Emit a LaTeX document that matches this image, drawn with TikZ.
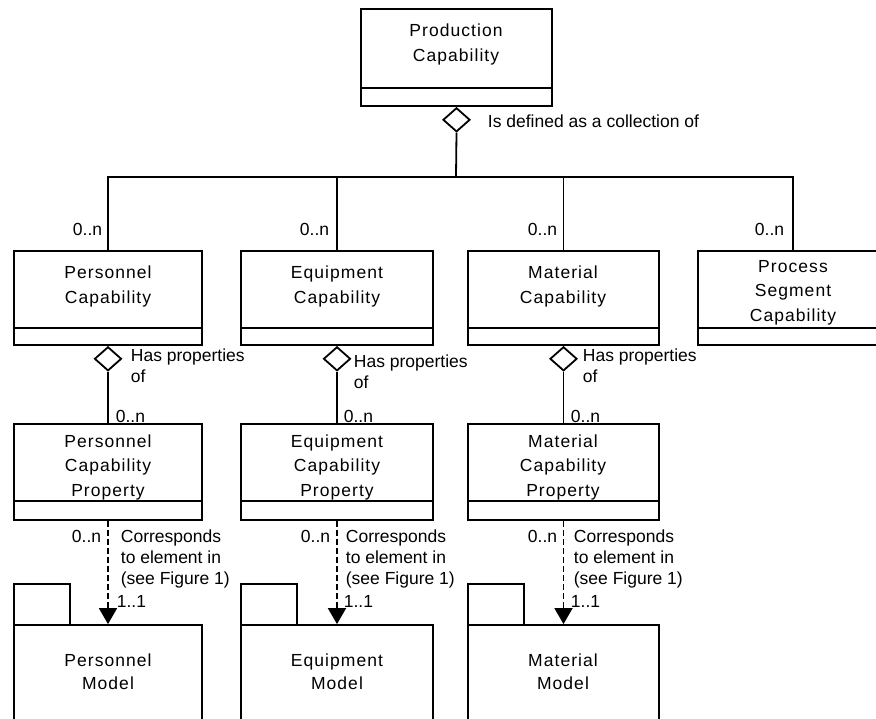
\documentclass[tikz,border=0pt]{standalone}
\usepackage{fontspec}
\setmainfont{Liberation Sans}
\newfontfamily\classfont[LetterSpace=6]{Liberation Sans}
\usetikzlibrary{shapes.geometric,arrows.meta}

% class box: name, left, top, right, bottom, divider
\newcommand\umlclass[6]{%
  \node[umlbox, minimum width={#4pt-#2pt}, minimum height={#5pt-#3pt}]
    (#1) at ({(#2+#4)/2},{(#3+#5)/2}) {};
  \draw (#1.west |- 0,#6) -- (#1.east |- 0,#6);
}
% package: name, left, right
\newcommand\umlpackage[3]{%
  \node[umlbox, minimum width=56pt, minimum height=41pt]
    (#1tab) at ({#2+28},604.5) {};
  \node[umlbox, minimum width={#3pt-#2pt}, minimum height=120pt]
    (#1) at ({(#2+#3)/2},685) {};
}

\begin{document}
\begin{tikzpicture}[x=1pt,y=-1pt,
  line width=1.8pt,
  umlbox/.style={draw, rectangle, inner sep=0pt, line width=1.8pt},
  % multi-line texts are anchored at the baseline of their last line
  ctext/.style={align=center, anchor=base, inner sep=0pt,
    font=\classfont\fontsize{17.5}{24.5}\selectfont},
  lbl/.style={align=left, anchor=base west, inner sep=0pt,
    font=\fontsize{17.5}{21}\selectfont},
  mult/.style={inner sep=0pt, font=\fontsize{17.5}{20}\selectfont},
  agg/.style={draw, diamond, fill=white, inner sep=0pt,
    minimum width=27pt, minimum height=24pt, line width=1.8pt},
  dep/.style={dash pattern=on 6pt off 3pt, -{Triangle[length=16pt,width=18pt]}}
]
\useasboundingbox (0,0) rectangle (876,718);
\clip (0,0) rectangle (876,718);

% classes
\umlclass{pc}{361}{9}{552}{106}{88}
\umlclass{perc}{14}{251}{202}{345}{328}
\umlclass{eqc}{241}{251}{433}{345}{328}
\umlclass{matc}{468}{251}{659}{345}{328}
\umlclass{proc}{698}{251}{888}{345}{328}
\umlclass{perprop}{14}{424}{202}{520}{501}
\umlclass{eqprop}{241}{424}{433}{520}{501}
\umlclass{matprop}{468}{424}{659}{520}{501}

% packages
\umlpackage{permod}{14}{202}
\umlpackage{eqmod}{241}{433}
\umlpackage{matmod}{468}{659}

% class names
\node[ctext] (pc-t) at (456,61) {Production\\Capability};
\node[ctext] (perc-t) at (108,303) {Personnel\\Capability};
\node[ctext] (eqc-t) at (337,303) {Equipment\\Capability};
\node[ctext] (matc-t) at (563,303) {Material\\Capability};
\node[ctext] (proc-t) at (793,321) {Process\\Segment\\Capability};
\node[ctext] (perprop-t) at (108,496) {Personnel\\Capability\\Property};
\node[ctext] (eqprop-t) at (337,496) {Equipment\\Capability\\Property};
\node[ctext] (matprop-t) at (563,496) {Material\\Capability\\Property};
\node[ctext, font=\classfont\fontsize{17.5}{23}\selectfont] (permod-t) at (108,689) {Personnel\\Model};
\node[ctext, font=\classfont\fontsize{17.5}{23}\selectfont] (eqmod-t) at (337,689) {Equipment\\Model};
\node[ctext, font=\classfont\fontsize{17.5}{23}\selectfont] (matmod-t) at (563,689) {Material\\Model};

% aggregation diamonds
\node[agg, anchor=north] (pcagg) at (pc.south) {};
\node[agg, anchor=north] (peragg) at (perc.south) {};
\node[agg, anchor=north] (eqagg) at (eqc.south) {};
\node[agg, anchor=north] (matagg) at (matc.south) {};

% collection tree
\coordinate (bus) at (456,177);
\draw (pcagg.south) -- (bus);
\draw (perc.north) |- (proc.north |- bus) -- (proc.north);
\draw (eqc.north) -- (eqc.north |- bus);
\draw (matc.north) -- (matc.north |- bus);

% properties
\draw (peragg.south) -- (perprop.north);
\draw (eqagg.south) -- (eqprop.north);
\draw (matagg.south) -- (matprop.north);

% correspondences
\draw[dep] (perprop.south) -- (permod.north);
\draw[dep] (eqprop.south) -- (eqmod.north);
\draw[dep] (matprop.south) -- (matmod.north);

% labels
\node[lbl] (coll-l) at (487,127) {Is defined as a collection of};
\node[mult, anchor=base east] (m-perc) at (103,235) {0..n};
\node[mult, anchor=base east] (m-eqc) at (330,235) {0..n};
\node[mult, anchor=base east] (m-matc) at (558,235) {0..n};
\node[mult, anchor=base east] (m-proc) at (785,235) {0..n};

\node[lbl] (has-per) at (130,382) {Has properties\\of};
\node[lbl] (has-eq) at (353,388) {Has properties\\of};
\node[lbl] (has-mat) at (582,382) {Has properties\\of};
\node[mult, anchor=base west] (m-perprop) at (115,422) {0..n};
\node[mult, anchor=base west] (m-eqprop) at (343,422) {0..n};
\node[mult, anchor=base west] (m-matprop) at (570,422) {0..n};

\node[mult, anchor=base east] (s-per) at (102,542) {0..n};
\node[mult, anchor=base east] (s-eq) at (331,542) {0..n};
\node[mult, anchor=base east] (s-mat) at (558,542) {0..n};
\node[lbl] (cor-per) at (120,584) {Corresponds\\to element in\\(see Figure 1)};
\node[lbl] (cor-eq) at (345,584) {Corresponds\\to element in\\(see Figure 1)};
\node[lbl] (cor-mat) at (573,584) {Corresponds\\to element in\\(see Figure 1)};
\node[mult, anchor=base west] (t-per) at (116,607) {1..1};
\node[mult, anchor=base west] (t-eq) at (343,607) {1..1};
\node[mult, anchor=base west] (t-mat) at (570,607) {1..1};
\end{tikzpicture}
\end{document}
